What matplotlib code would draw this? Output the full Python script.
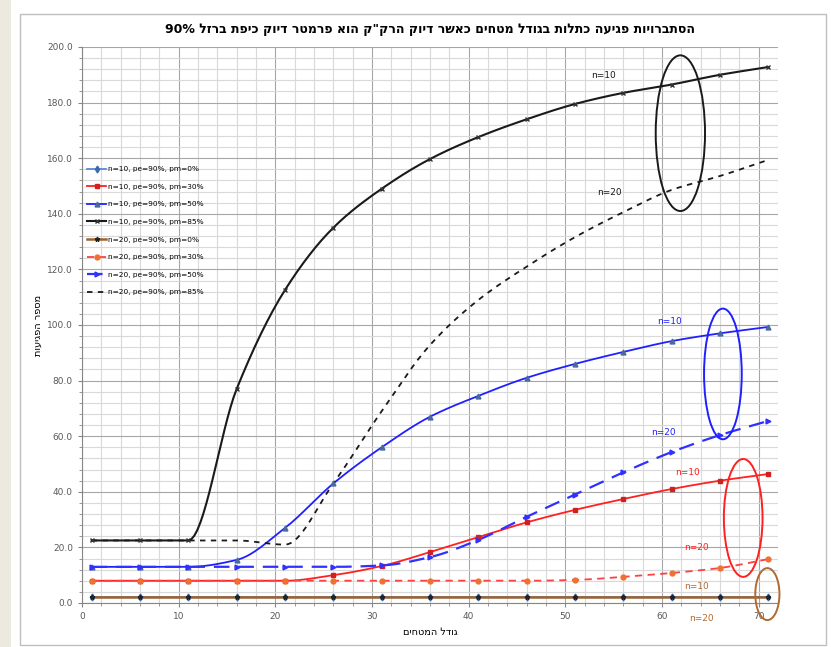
import matplotlib
matplotlib.use('Agg')
import matplotlib.pyplot as plt
import numpy as np
from matplotlib.patches import Ellipse, Rectangle
from matplotlib.ticker import MultipleLocator, FormatStrFormatter

# data
x = [1, 6, 11, 16, 21, 26, 31, 36, 41, 46, 51, 56, 61, 66, 71]

n10_pm0 = [2, 2, 2, 2, 2, 2, 2, 2, 2, 2, 2, 2, 2, 2, 2]
n10_pm30 = [8, 8, 8, 8, 8, 10, 13.3, 18.3, 23.7, 29, 33.5, 37.4, 41, 44, 46.4]
n10_pm50 = [13, 13, 13, 15.5, 27, 43, 56, 67, 74.5, 81, 86, 90.3, 94.2, 97, 99.3]
n10_pm85 = [22.5, 22.5, 22.5, 77, 112.6, 135, 149, 159.7, 167.6, 174, 179.5, 183.5, 186.5, 190, 192.8]
n20_pm0 = [2, 2, 2, 2, 2, 2, 2, 2, 2, 2, 2, 2, 2, 2, 2]
n20_pm30 = [8, 8, 8, 8, 8, 8, 8, 8, 8, 8, 8.3, 9.4, 10.8, 12.6, 15.8]
n20_pm50 = [13, 13, 13, 13, 13, 13, 13.5, 16.5, 22.7, 31, 39, 47, 54.3, 60.4, 65.5]
n20_pm85 = [22.5, 22.5, 22.5, 22.5, 21, 43, 69, 92.8, 109, 121, 131.6, 140.6, 148.6, 153.6, 159.4]

labels = ['n=10, pe=90%, pm=0%', 'n=10, pe=90%, pm=30%', 'n=10, pe=90%, pm=50%',
          'n=10, pe=90%, pm=85%', 'n=20, pe=90%, pm=0%', 'n=20, pe=90%, pm=30%',
          'n=20, pe=90%, pm=50%', 'n=20, pe=90%, pm=85%']

title_txt = 'הסתברויות פגיעה כתלות בגודל מטחים כאשר דיוק הרק"ק הוא פרמטר דיוק כיפת ברזל'
xlabel_txt = 'גודל המטחים'
ylabel_txt = 'מספר הפגיעות'


def heb(s):
    # matplotlib has no bidi, so hand it the visual order
    return s[::-1]


def smooth(xs, ys, k=16):
    # monotone cubic (fritsch-carlson), stands in for excel's smoothed line
    xs = np.asarray(xs, float)
    ys = np.asarray(ys, float)
    h = np.diff(xs)
    d = np.diff(ys) / h
    m = np.zeros_like(ys)
    m[0], m[-1] = d[0], d[-1]
    for i in range(1, len(ys) - 1):
        if d[i - 1] * d[i] > 0:
            w1 = 2 * h[i] + h[i - 1]
            w2 = h[i] + 2 * h[i - 1]
            m[i] = (w1 + w2) / (w1 / d[i - 1] + w2 / d[i])
    px, py = [], []
    t = np.linspace(0, 1, k, endpoint=False)
    for i in range(len(xs) - 1):
        h00 = 2 * t ** 3 - 3 * t ** 2 + 1
        h10 = t ** 3 - 2 * t ** 2 + t
        h01 = -2 * t ** 3 + 3 * t ** 2
        h11 = t ** 3 - t ** 2
        px.append(xs[i] + t * h[i])
        py.append(h00 * ys[i] + h10 * h[i] * m[i] + h01 * ys[i + 1] + h11 * h[i] * m[i + 1])
    px.append([xs[-1]])
    py.append([ys[-1]])
    return np.concatenate(px), np.concatenate(py)


fig = plt.figure(figsize=(8.31, 6.47), dpi=100)
fig.patches.append(Rectangle((0, 0), 11 / 831, 1, transform=fig.transFigure,
                             facecolor='#ECE9DF', edgecolor='none', zorder=-5))
fig.patches.append(Rectangle((20 / 831, 2 / 647), 806 / 831, 631 / 647, transform=fig.transFigure,
                             facecolor='white', edgecolor='#BFBFBF', linewidth=1.0, zorder=-5))

ax = fig.add_axes([82 / 831, 44 / 647, 696 / 831, 556 / 647])
ax.set_facecolor('none')

series = [
    (n10_pm0, '#5B8BD0', '-', 'd', '#3B6BB0', 1.3),
    (n10_pm30, '#FF2020', '-', 's', '#D02020', 1.3),
    (n10_pm50, '#2020FF', '-', '^', '#4A6A9A', 1.3),
    (n10_pm85, '#1A1A1A', '-', 'x', '#333333', 1.5),
    (n20_pm0, '#A0622D', '-', '*', '#222222', 1.8),
    (n20_pm30, '#FF4040', (0, (4, 3)), 'o', '#F07030', 1.3),
    (n20_pm50, '#3030FF', (0, (7, 4)), '>', '#3030FF', 1.6),
    (n20_pm85, '#1A1A1A', (0, (3, 3)), None, '#1A1A1A', 1.3),
]

for (ys, col, ls, mk, mcol, lw), lab in zip(series, labels):
    sx, sy = smooth(x, ys)
    ax.plot(sx, sy, color=col, linestyle=ls, linewidth=lw, zorder=3)
    if mk is not None:
        ax.plot(x, ys, linestyle='none', marker=mk, markersize=3.5,
                color=mcol, markeredgecolor=mcol, zorder=4)
    ax.plot([], [], color=col, linestyle=ls, linewidth=lw, marker=mk,
            markersize=3.5, markerfacecolor=mcol, markeredgecolor=mcol, label=lab)

# circles + n labels
ax.add_patch(Ellipse((61.9, 169), 5.1, 56, fill=False, edgecolor='#1A1A1A', linewidth=1.4, zorder=5))
ax.add_patch(Ellipse((66.3, 82.4), 3.9, 47, fill=False, edgecolor='#1F1FFF', linewidth=1.4, zorder=5))
ax.add_patch(Ellipse((68.4, 30.6), 4.0, 42.4, fill=False, edgecolor='#FF2020', linewidth=1.4, zorder=5))
ax.add_patch(Ellipse((70.9, 3.2), 2.5, 18.7, fill=False, edgecolor='#B06A30', linewidth=1.4,
                     zorder=5, clip_on=False))

ax.text(53.9, 189.6, 'n=10', color='#1A1A1A', fontsize=6.5, ha='center', va='center')
ax.text(54.6, 147.5, 'n=20', color='#1A1A1A', fontsize=6.5, ha='center', va='center')
ax.text(60.8, 101.4, 'n=10', color='#1F1FFF', fontsize=6.5, ha='center', va='center')
ax.text(60.2, 61.2, 'n=20', color='#1F1FFF', fontsize=6.5, ha='center', va='center')
ax.text(62.6, 46.8, 'n=10', color='#FF2020', fontsize=6.5, ha='center', va='center')
ax.text(63.6, 19.8, 'n=20', color='#FF2020', fontsize=6.5, ha='center', va='center')
ax.text(63.6, 6.1, 'n=10', color='#B06A30', fontsize=6.5, ha='center', va='center')
ax.text(64.1, -5.4, 'n=20', color='#B06A30', fontsize=6.5, ha='center', va='center', clip_on=False)

ax.set_xlim(0, 72)
ax.set_ylim(0, 200)
ax.xaxis.set_major_locator(MultipleLocator(10))
ax.xaxis.set_minor_locator(MultipleLocator(2))
ax.yaxis.set_major_locator(MultipleLocator(20))
ax.yaxis.set_minor_locator(MultipleLocator(4))
ax.yaxis.set_major_formatter(FormatStrFormatter('%.1f'))
ax.grid(which='major', color='#A6A6A6', linewidth=0.8, zorder=1)
ax.grid(which='minor', color='#D9D9D9', linewidth=0.8, zorder=1)
ax.set_axisbelow(True)
for s in ['top', 'right']:
    ax.spines[s].set_visible(False)
for s in ['left', 'bottom']:
    ax.spines[s].set_color('#868686')
ax.tick_params(which='both', colors='#868686', labelcolor='#595959', labelsize=6.5, length=3)
ax.tick_params(which='minor', length=2)

ax.set_title('90% ' + heb(title_txt), fontsize=9, fontweight='bold', pad=10)
ax.set_xlabel(heb(xlabel_txt), fontsize=7, labelpad=4)
ax.set_ylabel(heb(ylabel_txt), fontsize=7, labelpad=3)

ax.legend(loc='upper left', bbox_to_anchor=(0.0, 0.795), frameon=False, fontsize=5.3,
          handlelength=2.6, labelspacing=1.55, handletextpad=0.3, borderaxespad=0.3)

fig.savefig('out.png', dpi=100)
